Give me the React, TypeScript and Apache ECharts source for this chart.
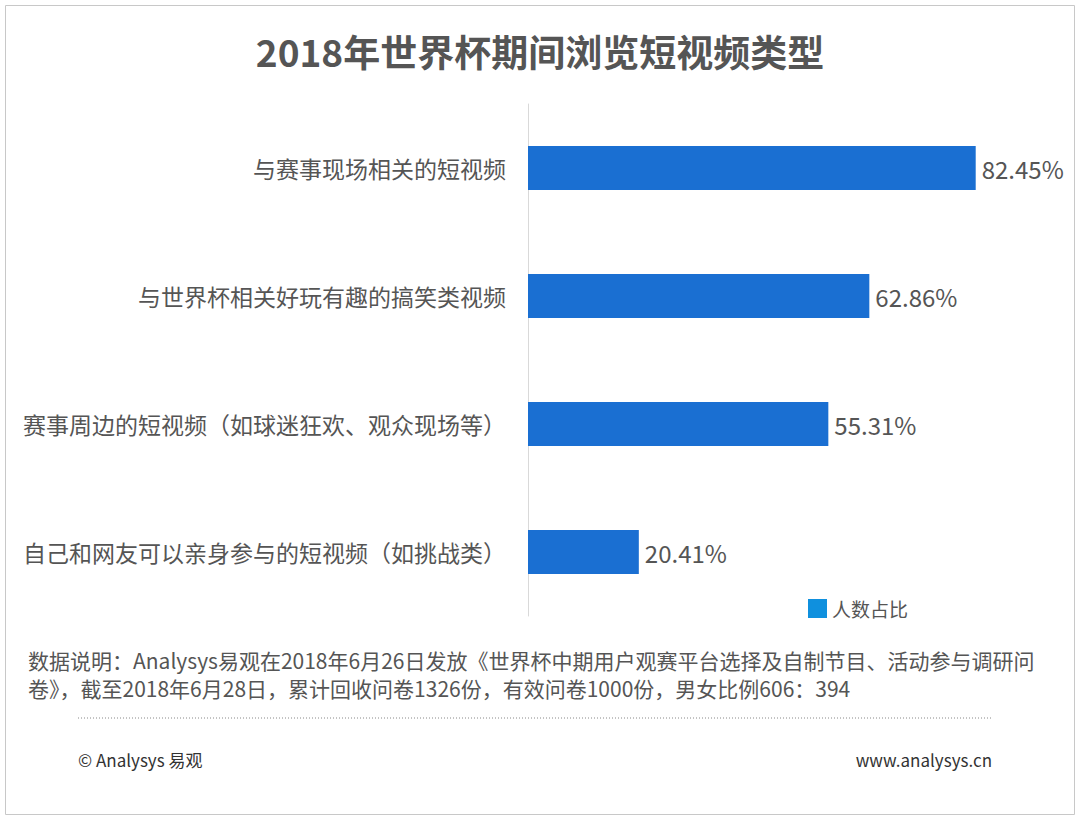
import React, { useEffect, useRef } from "react";
import * as echarts from "echarts";

const categories = [
  "与赛事现场相关的短视频",
  "与世界杯相关好玩有趣的搞笑类视频",
  "赛事周边的短视频（如球迷狂欢、观众现场等）",
  "自己和网友可以亲身参与的短视频（如挑战类）",
];
const values = [82.45, 62.86, 55.31, 20.41];
const seriesName = "人数占比";
const titleText = "2018年世界杯期间浏览短视频类型";
const noteLines = [
  "数据说明：Analysys易观在2018年6月26日发放《世界杯中期用户观赛平台选择及自制节目、活动参与调研问",
  "卷》，截至2018年6月28日，累计回收问卷1326份，有效问卷1000份，男女比例606：394",
];
const copyright = "© Analysys 易观";
const website = "www.analysys.cn";

const FONT = "'Noto Sans CJK SC', 'Noto Sans', sans-serif";

export default function App() {
  const ref = useRef<HTMLDivElement>(null);
  useEffect(() => {
    if (!ref.current) return;
    const chart = echarts.init(ref.current, undefined, { renderer: "svg" });
    chart.setOption({
      animation: false,
      backgroundColor: "#ffffff",
      textStyle: { fontFamily: FONT },
      title: {
        text: titleText,
        left: "center",
        top: 27,
        textStyle: { fontSize: 37, fontWeight: "bold", color: "#555555", fontFamily: FONT },
      },
      legend: {
        data: [{ name: seriesName, itemStyle: { color: "#0f90de" } }],
        left: 803,
        top: 594,
        itemWidth: 19,
        itemHeight: 19,
        itemGap: 6,
        icon: "rect",
        textStyle: { fontSize: 19, color: "#555555", fontFamily: FONT },
      },
      grid: { left: 528, top: 104, width: 543, height: 512, containLabel: false },
      xAxis: {
        type: "value",
        min: 0,
        max: 100,
        show: false,
      },
      yAxis: {
        type: "category",
        data: categories,
        inverse: true,
        axisLine: { show: true, lineStyle: { color: "#d9d9d9", width: 1 } },
        axisTick: { show: false },
        axisLabel: { fontSize: 23, color: "#555555", margin: 22, fontFamily: FONT },
        splitLine: { show: false },
      },
      series: [
        {
          name: seriesName,
          type: "bar",
          data: values,
          barWidth: 44,
          itemStyle: { color: "#1a6fd2" },
          label: {
            show: true,
            position: "right",
            distance: 6,
            formatter: (p: any) => p.value.toFixed(2) + "%",
            fontSize: 24,
            color: "#555555",
            fontFamily: FONT,
          },
        },
      ],
      graphic: [
        {
          type: "rect",
          shape: { x: 5.5, y: 5.5, width: 1069, height: 809 },
          style: { fill: "none", stroke: "#c8c8c8", lineWidth: 1 },
          silent: true,
        },
        {
          type: "text",
          x: 28,
          y: 649,
          style: { text: noteLines[0], fontSize: 21, fill: "#555555", fontFamily: FONT },
        },
        {
          type: "text",
          x: 28,
          y: 677,
          style: { text: noteLines[1], fontSize: 21, fill: "#555555", fontFamily: FONT },
        },
        {
          type: "line",
          shape: { x1: 78, y1: 718, x2: 992, y2: 718 },
          style: { stroke: "#888888", lineWidth: 1, lineDash: [1, 2] },
        },
        {
          type: "text",
          x: 78,
          y: 751,
          style: { text: copyright, fontSize: 17, fill: "#333333", fontFamily: FONT },
        },
        {
          type: "text",
          x: 992,
          y: 751,
          style: { text: website, fontSize: 17, fill: "#333333", fontFamily: FONT, align: "right" },
        },
      ],
    });
    return () => chart.dispose();
  }, []);
  return (
    <div
      ref={ref}
      style={{ position: "fixed", left: 0, top: 0, width: 1080, height: 819 }}
    />
  );
}
